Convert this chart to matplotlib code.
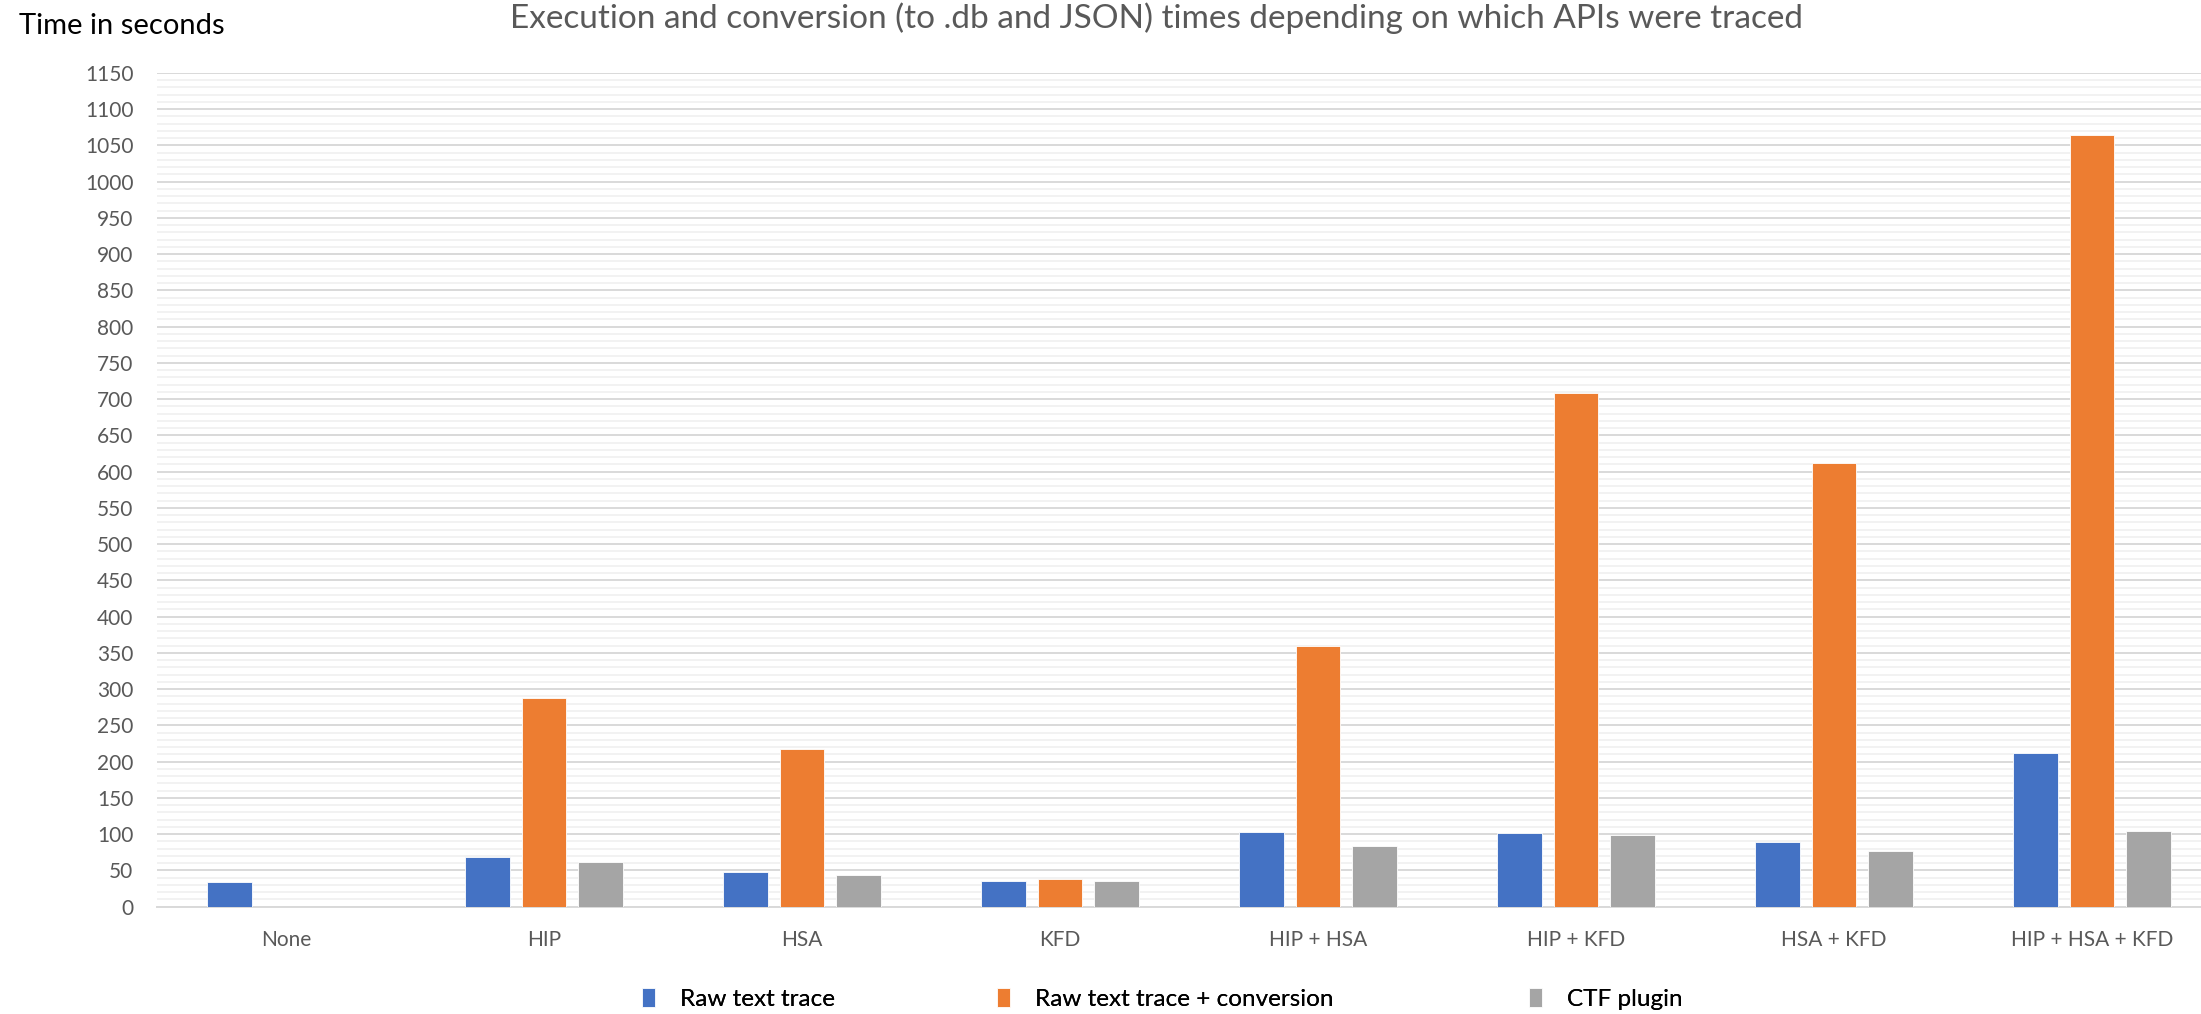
import numpy as np
import matplotlib.pyplot as plt
from matplotlib.ticker import MultipleLocator

plt.rcParams['font.family'] = ['Lato', 'DejaVu Sans']

# data
categories = ['None', 'HIP', 'HSA', 'KFD', 'HIP + HSA', 'HIP + KFD', 'HSA + KFD', 'HIP + HSA + KFD']
raw_trace = [34, 69, 48, 36, 103, 102, 89, 212]
raw_conv = [0, 288, 218, 38, 360, 708, 612, 1064]
ctf_plugin = [0, 61, 44, 36, 84, 99, 77, 104]
series_names = ['Raw text trace', 'Raw text trace + conversion', 'CTF plugin']
colors = ['#4472C4', '#ED7D31', '#A5A5A5']

W, H = 2201, 1014
fig = plt.figure(figsize=(W / 100, H / 100), dpi=100)

# plot area (the right end runs past the picture, as in the source)
left, right, bottom, top = 157, 2221, 906.7, 73
ax = fig.add_axes([left / W, 1 - bottom / H, (right - left) / W, (bottom - top) / H])

x = np.arange(len(categories))
bw = 0.173
step = 0.22
bars = []
for i, (vals, col) in enumerate(zip([raw_trace, raw_conv, ctf_plugin], colors)):
    b = ax.bar(x + (i - 1) * step, vals, width=bw, color=col, zorder=3,
               edgecolor='white', linewidth=0.6)
    bars.append(b)

ax.set_xlim(-0.5, len(categories) - 0.5)
ax.set_ylim(0, 1150)
ax.yaxis.set_major_locator(MultipleLocator(50))
ax.yaxis.set_minor_locator(MultipleLocator(10))
ax.grid(which='major', axis='y', color='#d9d9d9', linewidth=1.4, zorder=0)
ax.grid(which='minor', axis='y', color='#f2f2f2', linewidth=1.4, zorder=0)

for s in ['top', 'right', 'left']:
    ax.spines[s].set_visible(False)
ax.spines['bottom'].set_color('#d9d9d9')
ax.spines['bottom'].set_linewidth(1.4)

ax.set_xticks(x)
ax.set_xticklabels(categories)
ax.tick_params(axis='x', length=0, pad=17, labelsize=15, labelcolor='#595959')
ax.tick_params(axis='y', which='both', length=0, pad=17, labelsize=15, labelcolor='#595959')

fig.text(19 / W, 1 - 26 / H, 'Time in seconds', fontsize=21, color='#000000',
         ha='left', va='center')
fig.text(1157 / W, 1 - 18 / H,
         'Execution and conversion (to .db and JSON) times depending on which APIs were traced',
         fontsize=24, color='#595959', ha='center', va='center')

# legend entries, each placed where the source has it
anchors = [650, 1005, 1537]
for b, name, ax_x in zip(bars, series_names, anchors):
    lg = fig.legend([b], [name], loc='center left',
                    bbox_to_anchor=((ax_x - 8) / W, 1 - 999 / H),
                    frameon=False, fontsize=17.5, handlelength=0.55, handleheight=0.85,
                    handletextpad=1.0, borderpad=0, borderaxespad=0)
    fig.add_artist(lg)

fig.savefig('out.png', dpi=100)
